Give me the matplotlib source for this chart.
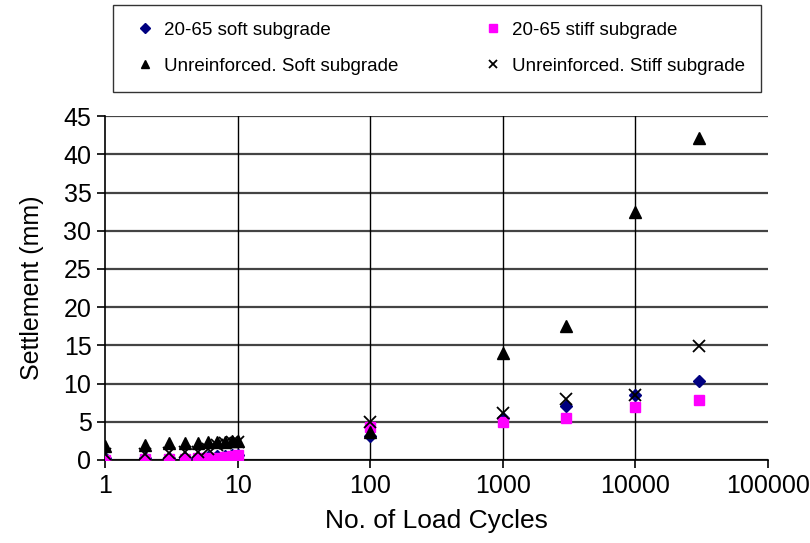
import matplotlib
matplotlib.use("Agg")
import matplotlib.pyplot as plt

plt.rcParams['font.family'] = ['Liberation Sans', 'DejaVu Sans']

# data
cycles = [1, 2, 3, 4, 5, 6, 7, 8, 9, 10, 100, 1000, 3000, 10000, 30000]
soft_2065 = [0.2, 0.2, 0.3, 0.3, 0.3, 0.4, 0.5, 0.5, 0.6, 0.7, 3.1, 5.5, 7.1, 8.5, 10.3]
stiff_2065 = [0.0, 0.1, 0.1, 0.1, 0.2, 0.2, 0.3, 0.4, 0.5, 0.7, 4.3, 5.0, 5.5, 6.9, 7.8]
unreinf_soft = [1.8, 2.0, 2.2, 2.2, 2.2, 2.3, 2.4, 2.4, 2.5, 2.5, 3.6, 14.0, 17.5, 32.5, 42.1]
unreinf_stiff = [0.8, 0.8, 0.9, 1.0, 1.1, 1.4, 2.0, 2.2, 2.3, 2.4, 5.0, 6.2, 8.0, 8.5, 14.9]

labels = ['20-65 soft subgrade', '20-65 stiff subgrade',
          'Unreinforced. Soft subgrade', 'Unreinforced. Stiff subgrade']
decades = [10, 100, 1000, 10000]
yticks = [0, 5, 10, 15, 20, 25, 30, 35, 40, 45]

fig = plt.figure(figsize=(8.1, 5.43), dpi=100)
ax = fig.add_axes([0.130, 0.153, 0.818, 0.633])

h1, = ax.plot(cycles, soft_2065, 'D', color='#000080', ms=6.5, ls='none', label=labels[0], zorder=3)
h2, = ax.plot(cycles, stiff_2065, 's', color='#ff00ff', ms=7, ls='none', label=labels[1], zorder=3)
h3, = ax.plot(cycles, unreinf_soft, '^', color='black', ms=8.5, ls='none', label=labels[2], zorder=3)
h4, = ax.plot(cycles, unreinf_stiff, 'x', color='black', ms=8, mew=1.3, ls='none', label=labels[3], zorder=3)

ax.set_xscale('log')
ax.set_xlim(1, 100000)
ax.set_ylim(0, 45)
ax.set_yticks(yticks)
ax.set_xticks([1, 10, 100, 1000, 10000, 100000])
ax.set_xticklabels(['1', '10', '100', '1000', '10000', '100000'])
ax.minorticks_off()

ax.yaxis.grid(True, color='#444444', lw=1.6)
for d in decades:
    ax.axvline(d, color='black', lw=1.0, zorder=1)
ax.set_axisbelow(True)

for s in ['top', 'right']:
    ax.spines[s].set_visible(False)
ax.spines['left'].set_linewidth(1.2)
ax.spines['bottom'].set_linewidth(1.2)
ax.tick_params(direction='out', length=6, width=1.2, labelsize=18, pad=4)

ax.set_xlabel('No. of Load Cycles', fontsize=19, labelpad=8)
ax.set_ylabel('Settlement (mm)', fontsize=18, labelpad=14)

# matplotlib fills columns first, so order handles to read row by row
leg = fig.legend([h1, h3, h2, h4], [labels[0], labels[2], labels[1], labels[3]],
                 loc='upper left', bbox_to_anchor=(0.14, 0.838, 0.80, 0.153),
                 mode='expand', ncol=2, fontsize=13.5, frameon=True, fancybox=False,
                 edgecolor='black', markerscale=0.75, handletextpad=0.2,
                 handlelength=1.6, borderpad=0.9, labelspacing=1.0, borderaxespad=0)
leg.get_frame().set_linewidth(1.0)

fig.savefig('out.png', dpi=100)
